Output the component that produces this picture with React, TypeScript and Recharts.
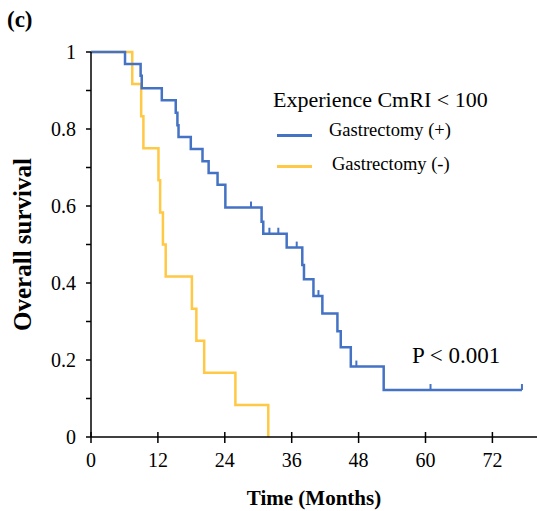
import { LineChart, Line, XAxis, YAxis, Label } from 'recharts';

const FONT = 'Liberation Serif';
const BLUE = '#4472C4';
const YELLOW = '#FFC845';

// Gastrectomy (+): event times (months) and survival after each step
const plusTimes = [0, 6.1, 8.9, 9.1, 12.7, 15.2, 15.5, 15.7, 17.9, 20.0, 21.1, 22.7, 24.1, 30.6, 30.9, 35.1, 37.9, 38.2, 39.9, 41.5, 44.2, 44.8, 46.6, 52.5];
const plusSurv = [1, 0.969, 0.938, 0.906, 0.875, 0.842, 0.81, 0.779, 0.748, 0.716, 0.686, 0.655, 0.596, 0.559, 0.528, 0.492, 0.447, 0.41, 0.366, 0.321, 0.275, 0.233, 0.183, 0.122];
const plusCensored = [28.7, 32.0, 33.6, 36.9, 40.8, 47.6, 60.9, 77.3];

// Gastrectomy (-)
const minusTimes = [0, 7.4, 9.0, 9.4, 12.1, 12.4, 12.9, 13.4, 18.1, 18.9, 20.3, 25.9, 31.8];
const minusSurv = [1, 0.917, 0.833, 0.75, 0.667, 0.583, 0.5, 0.417, 0.333, 0.25, 0.167, 0.083, 0];
const minusCensored: number[] = [];

const xTicks = [0, 12, 24, 36, 48, 60, 72];
const yTicks = [0, 0.1, 0.2, 0.3, 0.4, 0.5, 0.6, 0.7, 0.8, 0.9, 1];
const yLabeled = [0, 0.2, 0.4, 0.6, 0.8, 1];

type Pt = { t: number; s: number; censor?: boolean };

function buildKM(times: number[], surv: number[], censored: number[]): Pt[] {
  const pts: Pt[] = times.map((t, i) => ({ t, s: surv[i] }));
  censored.forEach((c) => {
    let s = 1;
    times.forEach((t, i) => {
      if (t <= c) s = surv[i];
    });
    pts.push({ t: c, s, censor: true });
  });
  return pts.sort((a, b) => a.t - b.t);
}

const plusData = buildKM(plusTimes, plusSurv, plusCensored);
const minusData = buildKM(minusTimes, minusSurv, minusCensored);

const censorDot = (color: string) => (props: any) => {
  const { cx, cy, payload, index } = props;
  if (!payload || !payload.censor) return <g key={`d${index}`} />;
  return <line key={`d${index}`} x1={cx} x2={cx} y1={cy} y2={cy - 6} stroke={color} strokeWidth={2} />;
};

const XTick = (props: any) => {
  const { x, y, payload } = props;
  return (
    <g>
      <line x1={x} x2={x} y1={y - 5} y2={y + 6} stroke="#000" strokeWidth={1.5} />
      <text x={x} y={y + 30} textAnchor="middle" style={{ fontFamily: FONT }} fontSize={20} fill="#000">
        {payload.value}
      </text>
    </g>
  );
};

const YTick = (props: any) => {
  const { x, y, payload } = props;
  const v = Math.round(payload.value * 10) / 10;
  const show = yLabeled.includes(v);
  return (
    <g>
      <line x1={x - 5} x2={x} y1={y} y2={y} stroke="#000" strokeWidth={1.5} />
      {show && (
        <text x={x - 15} y={y + 7} textAnchor="end" style={{ fontFamily: FONT }} fontSize={20} fill="#000">
          {String(v)}
        </text>
      )}
    </g>
  );
};

const abs = (left: number, top: number, fontSize: number, extra: any = {}) => ({
  position: 'absolute' as const,
  left,
  top,
  fontSize,
  lineHeight: `${fontSize}px`,
  whiteSpace: 'nowrap' as const,
  ...extra,
});

const LegendBox = () => (
  <>
    <div style={abs(273, 89, 22)}>Experience CmRI &lt; 100</div>
    <div style={{ position: 'absolute', left: 277, top: 133.5, width: 35, height: 3, background: BLUE }} />
    <div style={abs(329, 120.5, 18.5)}>Gastrectomy (+)</div>
    <div style={{ position: 'absolute', left: 277, top: 164.5, width: 35, height: 3, background: YELLOW }} />
    <div style={abs(332, 155, 18.5)}>Gastrectomy (-)</div>
  </>
);

export default function App() {
  return (
    <div style={{ position: 'absolute', left: 0, top: 0, width: 537, height: 511, background: '#fff', fontFamily: FONT, color: '#000' }}>
      <LineChart width={537} height={511} margin={{ top: 52, right: 0, bottom: 0, left: 0 }} style={{ fontFamily: FONT }}>
        <XAxis
          type="number"
          dataKey="t"
          domain={[0, 80]}
          ticks={xTicks}
          interval={0}
          height={74}
          tickSize={0}
          tickMargin={0}
          tickLine={false}
          tick={<XTick />}
          axisLine={{ stroke: '#000', strokeWidth: 1.5 }}
          allowDuplicatedCategory={false}
        >
          <Label value="Time (Months)" position="insideBottom" offset={6} style={{ fontFamily: FONT }} fontWeight="bold" fontSize={21} fill="#000" />
        </XAxis>
        <YAxis
          type="number"
          domain={[0, 1]}
          ticks={yTicks}
          interval={0}
          width={91}
          tickSize={0}
          tickMargin={0}
          tickLine={false}
          tick={<YTick />}
          axisLine={{ stroke: '#000', strokeWidth: 1.5 }}
        >
          <Label value="Overall survival" angle={-90} position="insideLeft" offset={22} fontWeight="bold" fontSize={25} fill="#000" style={{ textAnchor: 'middle', fontFamily: FONT }} />
        </YAxis>
        <Line
          data={minusData}
          dataKey="s"
          name="Gastrectomy (-)"
          type="stepAfter"
          stroke={YELLOW}
          strokeWidth={2.5}
          dot={censorDot(YELLOW)}
          activeDot={false}
          isAnimationActive={false}
        />
        <Line
          data={plusData}
          dataKey="s"
          name="Gastrectomy (+)"
          type="stepAfter"
          stroke={BLUE}
          strokeWidth={2.5}
          dot={censorDot(BLUE)}
          activeDot={false}
          isAnimationActive={false}
        />
      </LineChart>
      <LegendBox />
      <div style={abs(7, 8, 23, { fontWeight: 'bold' })}>(c)</div>
      <div style={abs(412, 344, 23)}>P &lt; 0.001</div>
    </div>
  );
}
